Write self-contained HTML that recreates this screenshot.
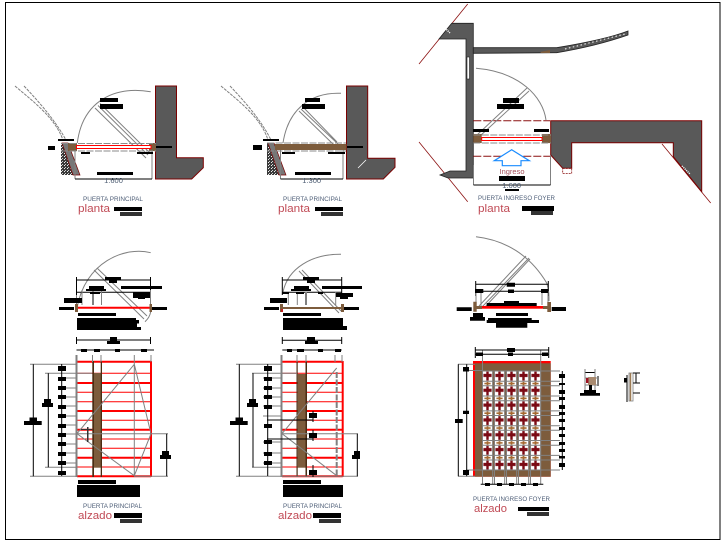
<!DOCTYPE html>
<html>
<head>
<meta charset="utf-8">
<style>
html,body{margin:0;padding:0;background:#fff;width:725px;height:543px;overflow:hidden}
svg{display:block}
text{font-family:"Liberation Sans",sans-serif}
.t{font-size:6.6px;fill:#4f5f78}
.p{font-size:11px;fill:#c04a55}
.d{font-size:7.5px;fill:#4a5a70}
.g{stroke:#808080;stroke-width:1;fill:none}
.g2{stroke:#808080;stroke-width:2;fill:none}
.k{stroke:#000;stroke-width:1;fill:none}
.w{fill:#595959;stroke:#7a0000;stroke-width:1}
.r{stroke:#f00;fill:none}
.dr{stroke:#8b1010;stroke-width:.8;fill:none}
.da{stroke:#8b8b8b;stroke-width:1;stroke-dasharray:7 1.5;fill:none}
.rd{stroke:#8b1010;stroke-width:1;stroke-dasharray:8 2;fill:none}
.b{fill:#7d5c3c}
</style>
</head>
<body>
<svg width="725" height="543" viewBox="0 0 725 543" xmlns="http://www.w3.org/2000/svg">
<defs>
<pattern id="sp" width="3" height="3" patternUnits="userSpaceOnUse">
<rect width="3" height="3" fill="#3a3a3a"/><rect x="1" y="0" width="1" height="1" fill="#eee"/><rect x="2" y="2" width="1" height="1" fill="#ccc"/>
</pattern>
<pattern id="grid" x="482" y="371" width="12" height="14.83" patternUnits="userSpaceOnUse">
<rect width="12" height="14.83" fill="#7d5c3c"/>
<rect x="1" y="0" width="9.300" height="10.200" fill="#fff"/>
<rect x="1" y="10.200" width="9.300" height="4.630" fill="#fff"/>
<path d="M4.300 .6H6.700V2.900H9.600V6H6.700V9.600H4.300V6H1.400V2.900H4.300Z" fill="#7b0a14"/>
<path d="M4.600 10.800H6.400V11.700H8.600V13.300H6.400V14.300H4.600V13.300H2.400V11.700H4.600Z" fill="#a5682f"/>
</pattern>
</defs>
<rect width="725" height="543" fill="#fff"/>
<rect x="5.500" y="2.500" width="714.500" height="537" fill="none" stroke="#000" stroke-width="1"/>

<!-- Plan 1 -->
<path class="w" d="M155.500 86H176.500V157.700H203.300V167.700L191.700 179H155.500Z"/>
<path class="g" stroke-dasharray="3 1" d="M15 86C35 103 55 118 63 140M24 86C42 105 56 122 66 140"/>
<path d="M61 143H68L80 175H61Z" fill="url(#sp)"/><path d="M68 143L80 175H73L62 143Z" fill="#777" stroke="#7a0000" stroke-width=".7"/>
<path class="g" d="M150.700 91.700C110 85 82 105 77.300 143"/>
<path class="g" d="M95 108L146 158M98 105.500L148 155M100 103.500L150 153"/>
<path class="b" d="M68 143H77V151H68ZM149 143H156V151H149Z"/>
<rect x="76.500" y="145.500" width="74.500" height="3" fill="#fff" stroke="#f00" stroke-width="1"/>
<path class="da" d="M61 143.500H156M61 151H156"/>
<path class="g" d="M75 150V179M152 150V179"/>
<path class="k" d="M75 179H152"/>
<path d="M48 146H55V150H48ZM58 139H74V141H58ZM100 98H118V102H100ZM100 104H123V109H100ZM156 146H172V148H156ZM81 152H90V154H81ZM137 152H153V154H137ZM97 172H133V175H97ZM114 207H142V211H114Z"/>
<rect x="120" y="212" width="22" height="4" fill="#333"/>
<text class="d" x="113.500" y="183" text-anchor="middle">1.600</text>
<text class="t" x="83" y="201" textLength="60" lengthAdjust="spacingAndGlyphs">PUERTA PRINCIPAL</text>
<text class="p" x="78" y="212" textLength="32" lengthAdjust="spacingAndGlyphs">planta</text>

<!-- Plan 2 -->
<path class="w" d="M346.500 86H367.700V158.300H395V167.300L383.300 179H346.500Z"/>
<path d="M358 168L366 160" stroke="#fff" stroke-width=".8"/>
<path class="g" stroke-dasharray="3 1" d="M221 86C241 103 261 118 268 140M230 86C248 105 262 122 271 140"/>
<path d="M267 143H274L286 175H267Z" fill="url(#sp)"/><path d="M274 143L286 175H279L268 143Z" fill="#777" stroke="#7a0000" stroke-width=".7"/>
<path class="g" d="M341 93.300C310 92 288 110 283 143"/>
<path class="g" d="M299 111L335 146M301 109L338 144M303 107L337 142"/>
<rect x="275" y="144" width="71.500" height="6" fill="#7d5c3c"/>
<path class="da" d="M267 143H346M267 151H346"/>
<path class="g" d="M280.500 150V179M343 150V179"/>
<path class="k" d="M280.500 179H343"/>
<path d="M253 145H262V150H253ZM263 139H279V141H263ZM305 98H320V102H305ZM302 104H325V109H302ZM347 146H363V148H347ZM282 152H295V154H282ZM328 152H345V154H328ZM295 172H331V175H295ZM315 207H343V211H315Z"/>
<rect x="321" y="212" width="22" height="4" fill="#333"/>
<text class="d" x="311.700" y="183" text-anchor="middle">1.300</text>
<text class="t" x="283" y="201" textLength="59" lengthAdjust="spacingAndGlyphs">PUERTA PRINCIPAL</text>
<text class="p" x="278" y="212" textLength="32" lengthAdjust="spacingAndGlyphs">planta</text>

<!-- Plan 3 -->
<path class="dr" d="M467.700 4L419 64M419 142L467.700 201.700M662 144L710.700 203"/>
<path fill="#595959" stroke="#222" stroke-width=".8" d="M439 39L451.700 23.300H473.300V178H448L440 175L450 171H466V39Z"/>
<rect x="467" y="57" width="2.500" height="22" fill="#fff" stroke="#222" stroke-width=".6"/>
<path fill="#595959" stroke="#222" stroke-width=".8" d="M473.300 47.700H556.700C585 43 610 38 628 31V35C605 43 585 48 556.700 52.700L473.300 53.300Z"/>
<path class="b" d="M540 52L550 50V53H541Z"/>
<path stroke="#fff" stroke-width="1" stroke-dasharray="1.500 2.500" d="M565 49L625 34"/>
<path class="w" d="M550.700 120.700H701.700V191.700L673.300 156.700V142.700H571.700V168.300H562.700L550.700 155Z"/>
<path stroke="#fff" stroke-width="1.500" stroke-dasharray="1 1" d="M682 166L690 174M445 28L450 33"/>
<rect x="562.700" y="168.500" width="9" height="5" fill="#fff" stroke="#8b1010" stroke-width=".8" stroke-dasharray="2 1"/>
<path class="rd" d="M473.300 120.700H550M473.300 156.300H550"/>
<path class="g" d="M476 68.300C520 72 543 97 546 120"/>
<path class="g" d="M477 135L527 88M480 136L529 91"/>
<path class="b" d="M473.300 134H481.700V143H473.300ZM542 134H551V143H542Z"/>
<rect x="481.700" y="137.500" width="60.300" height="3" fill="#fff" stroke="#f00" stroke-width="1"/>
<path class="da" d="M473.300 135H551M473.300 143H551"/>
<path d="M473 129H489V132H473ZM534 129H549V132H534ZM497 104H524V109H497ZM503 98H519V103H503ZM499 176H525V181H499ZM505 189H519V191H505ZM522 206H554V211H522Z"/>
<rect x="531" y="211" width="22" height="4" fill="#333"/>
<path fill="#fff" stroke="#1a8cff" stroke-width="1.200" d="M511.700 149.700L529.300 160.700H521V165.700H502.300V160.700H494.300Z"/>
<text x="512" y="174" text-anchor="middle" font-size="7.500" fill="#a5505a">Ingreso</text>
<path class="g" d="M473.500 165V185M550.500 155V185"/>
<path class="k" d="M473.500 185H550.500"/>
<text class="d" x="511.700" y="188" text-anchor="middle">1.600</text>
<text class="t" x="478" y="200" textLength="77" lengthAdjust="spacingAndGlyphs">PUERTA INGRESO FOYER</text>
<text class="p" x="478" y="212" textLength="32" lengthAdjust="spacingAndGlyphs">planta</text>

<!-- Elevation plan 1 -->
<path class="g" d="M150.700 252.700C125 246 85 262 77 308M145 321.700C148 319 150 316 150.700 311.700"/>
<path class="g" d="M94 270L144 319M97 268L147 316"/>
<path class="k" d="M76.500 280H150.500M76.500 277V295M150.500 277V295M76.500 292.300H150.500M76.500 340H150.500M76.500 337V344M150.500 337V344M76.500 350H154"/>
<path class="g" d="M76.500 295V305M82 290V305M101.500 290V305M150.500 290V305"/><path class="g2" d="M93 290V305"/>
<path d="M77 306.700H150V308.700H77Z" fill="#f00"/>
<path class="b" d="M75 304H78V312H75ZM149.500 304H152V312H149.500Z"/>
<path d="M59 307H74V310H59ZM152 307H167V310H152ZM64 298H82V303H64ZM78 313H116V316H78ZM77 318H136V320H139V323.500H137V327H141V330H77ZM121 286H162V289H121ZM133 292H150V298H133ZM138 297H145V299H138ZM89 286H104V290H89ZM86 289H106V291H86ZM105 277H121V280H105ZM109 280H117V283H109ZM90 292H100V294H90ZM107 341H120V344H107ZM110 337H117V341H110ZM81 349H87V352H81ZM94 349H100V352H94ZM115 349H120V352H115ZM141 349H147V352H141Z"/>

<!-- Elevation 1 -->
<g class="r" stroke-width="1">
<path d="M77 373.300H151M77 392.300H151M77 401.700H151M77 420.300H151M77 439H151M77 448.300H151M77 467H151"/>
<path stroke-width="2" d="M77 361.700H151M77 383H151M77 411H151M77 429.700H151M77 457.700H151M77 476.300H151M151 361V477"/>
</g>
<rect x="94" y="373" width="7.300" height="94.700" fill="#7d5c3c"/>
<path fill="#4a2d14" d="M92.300 361H94V477H92.300ZM100.700 361H102V477H100.700Z"/>
<path class="g2" d="M76.500 355V477"/>
<path class="g" d="M134.300 355V476M134.300 364.300L151 433.700L134.300 475.700L77 433.700ZM92.500 355V362M101 355V362M151 355V362"/>
<path class="g" d="M30 364.300H76M30 476.300H76M45 373.300H92M45 467.300H76M77 433.700H168M134 476.300H168M60 378H76M60 388H76M60 397H76M60 406H76M60 416H76M60 425H76M60 434H76M60 444H76M60 453H76M60 463H76"/>
<path class="k" d="M33.300 364.300V476.300M48.300 373.300V467.300M61.700 364V476M166.700 433.700V476.300"/>
<path d="M58 366H66V371H58ZM58 377H66V381H58ZM58 386H66V390H58ZM58 395H66V399H58ZM58 405H66V409H58ZM58 414H66V418H58ZM58 424H66V428H58ZM58 433H66V437H58ZM58 442H66V446H58ZM58 452H66V456H58ZM58 461H66V465H58ZM58 471H66V475H58ZM24 421H29.500V417.500H37V421H41.700V425H24ZM42 403H44V399H51V403H53V407H42ZM160 455H162V451H169V455H171V459H160ZM78 480H116V484H78ZM77 485H140V497H77ZM114 513H142V518H114Z"/>
<path fill="#333" d="M87 427H88.500V442H87ZM81 429H92V430H81ZM120 519H142V523H120Z"/>
<text class="t" x="83" y="508" textLength="59" lengthAdjust="spacingAndGlyphs">PUERTA PRINCIPAL</text>
<text class="p" x="78" y="519" textLength="34" lengthAdjust="spacingAndGlyphs">alzado</text>

<!-- Elevation plan 2 -->
<path class="g" d="M341 254.300C312 254 288 268 283 292"/>
<path class="g" d="M299 271L339 313M302 270L341 311"/>
<path class="k" d="M282.300 280H341.700M282.300 277V295M341.700 277V295M282.300 292.300H341.700M282.300 340.300H341.700M282.300 337V344M341.700 337V344M282.300 350H341.700"/>
<path class="g" d="M288.300 292V305M297.300 292V305M335.700 292V305"/><path class="g2" d="M306 292V305"/>
<rect x="280" y="307" width="64" height="2" fill="#7d5c3c"/>
<path fill="#7d5c3c" d="M280 304H283V312H280ZM341 304H344V312H341Z"/>
<rect x="281" y="309" width="2" height="3" fill="#c02020"/>
<path d="M264 307H279V310H264ZM344 307H359V310H344ZM270 298H287V303H270ZM283 313H321V316H283ZM283 318H343V326H347V330H283ZM322 286H362V289H322ZM336 293H353V297H336ZM340 297H348V299H340ZM294 286H309V290H294ZM291 289H311V291H291ZM303 277H319V280H303ZM307 280H315V283H307ZM282 292H289V294H282ZM296 292H304V294H296ZM318 292H323V294H318ZM305 341H318V344H305ZM307 337H315V341H307ZM287 349H292V352H287ZM297 349H304V352H297ZM318 349H323V352H318ZM335 349H341V352H335Z"/>

<!-- Elevation 2 -->
<g class="r" stroke-width="1">
<path d="M282 373.300H342.700M282 392.300H342.700M282 401.700H342.700M282 420.300H342.700M282 439H342.700M282 448.300H342.700M282 467H342.700"/>
<path stroke-width="2" d="M282 361.700H342.700M282 383H342.700M282 411H342.700M282 429.700H342.700M282 457.700H342.700M282 476.300H342.700M342.700 361V477"/>
</g>
<rect x="297.700" y="374" width="8" height="93.700" fill="#7d5c3c"/>
<path fill="#4a2d14" d="M305.500 361H307V477H305.500ZM296.500 361H297.700V477H296.500Z"/>
<path class="g2" d="M281.500 355V477"/>
<path stroke="#808080" stroke-width="2" stroke-dasharray="6 1.500" d="M336.700 372V476"/>
<path class="g" d="M336.700 368L282 433.700L336.700 475.700M297 355V362M306 355V362M335 355V362M342 355V362"/>
<path class="g" d="M236 364.300H282M236 476.300H282M252 373.300H297M252 467.300H282M282 433.700H358M282 476.300H358M263 378H282M263 388H282M263 397H282M263 406H282M263 416H282M263 442H282M263 453H282M263 463H282"/>
<path class="k" d="M239.300 364.300V476.300M253 373.300V467.300M267.700 364V476M357.300 433.700V476.300M267 420H313M267 439H313M313 411V422M313 430V441M313 465V477"/>
<path d="M264 366H272V371H264ZM264 377H272V381H264ZM264 386H272V390H264ZM264 395H272V399H264ZM264 405H272V409H264ZM264 424H272V428H264ZM264 440H272V444H264ZM264 452H272V456H264ZM264 461H272V465H264ZM230 421H235.500V417.500H243V421H247.700V425H230ZM247 403H249V399H256V403H258V407H247ZM352 455H354V451H360V459H352ZM309 413H317V418H309ZM309 433H317V438H309ZM309 470H317V475H309ZM283 480H321V484H283ZM283 485H343V497H283ZM313 513H341V518H313Z"/>
<rect x="319" y="519" width="22" height="4" fill="#333"/>
<text class="t" x="283" y="508" textLength="59" lengthAdjust="spacingAndGlyphs">PUERTA PRINCIPAL</text>
<text class="p" x="278" y="519" textLength="34" lengthAdjust="spacingAndGlyphs">alzado</text>

<!-- Elevation plan 3 -->
<path class="g" d="M476 236.700C505 240 530 255 546.700 283C549 290 549 295 549 301"/>
<path class="g" d="M479 306L526 256M482 307L529 258M485 307L530 259"/>
<path class="k" d="M475.700 284.300H548.300M475.700 281V296M548.300 281V296M475.700 291.300H548.300"/>
<path class="g" d="M476 291V303M481 291V306M542 291V305M548 291V303"/>
<rect x="481" y="306" width="69" height="2.700" fill="#f00"/>
<path class="b" d="M473.300 301.700H476.700V311.700H473.300ZM547.300 302H551V312H547.300ZM476 306H482V309H476ZM543 306H548V309H543Z"/>
<path d="M506.700 282.700H515V286.700H506.700ZM475 289H483.300V293H475ZM508 289.500H514V293H508ZM541 289H548V293H541ZM486.700 303H536.700V306H486.700ZM504 301H519V303H504ZM456.700 307.300H471.700V311H456.700ZM551.700 307H566V311H551.700ZM496 313H528V316H496ZM488 318H531.700V320.700H488ZM486.700 320H539V323H486.700ZM496 323H527.300V327.700H496ZM470 317H485V320.700H470ZM473 313H483V317H473Z"/>

<!-- Elevation 3 -->
<rect x="473" y="361" width="77.700" height="115.700" fill="#f00"/>
<rect x="475" y="363.300" width="75.700" height="113.400" fill="#7d5c3c"/>
<rect x="482" y="371" width="60" height="99" fill="url(#grid)"/>
<g class="g" stroke-width=".9">
<path d="M458 364.300H475M458 476.300H475M466 370.500H482M466 470H482M482 371H560M482 381.200H560M482 385.800H560M482 396H560M482 400.700H560M482 410.900H560M482 415.500H560M482 425.700H560M482 430.300H560M482 440.500H560M482 445.200H560M482 455.400H560M482 460H560M482 470H560"/>
<path d="M482.500 350V484M492.700 371V484M494.500 371V484M504.700 371V484M506.500 371V484M516.700 371V484M518.500 371V484M528.700 371V484M530.500 371V484M540.700 350V484"/>
</g>
<path class="k" d="M475.300 350H548.700M475.300 347V358M548.700 347V358M475.300 354.300H548.700M458.300 364.300V476.300M466.700 364.300V476.300M562.300 371V470M480.700 484.300H543.300"/>
<path d="M507 348H515V352H507ZM476 352.500H483V356H476ZM508 352.500H513V356H508ZM542 352.500H548V356H542ZM455 419H462.700V423H455ZM463 410.700H469V414H463ZM463 367H469V371.500H463ZM463 470H469V475H463ZM559 374H565V378H559ZM559 383H565V385H559ZM559 390H565V394H559ZM559 397H565V400H559ZM559 405H565V409H559ZM559 412H565V415H559ZM559 419H565V422H559ZM559 427H565V430H559ZM559 434H565V437H559ZM559 442H565V445H559ZM559 449H565V452H559ZM559 456H565V458.500H559ZM559 463H565V467H559ZM485 483H490V486H485ZM497 483H502V486H497ZM509 483H514V486H509ZM521 483H526V486H521ZM533 483H538V486H533ZM518 507H549V511H518Z"/>
<rect x="527" y="512" width="22" height="4" fill="#333"/>
<text class="t" x="473" y="501" textLength="77" lengthAdjust="spacingAndGlyphs">PUERTA INGRESO FOYER</text>
<text class="p" x="474" y="512" textLength="33" lengthAdjust="spacingAndGlyphs">alzado</text>

<!-- Details -->
<path class="k" d="M585 372.500H595M598 376V386"/>
<path class="g" d="M585 369V390M595 369V390M585 378H598M585 385H598"/>
<rect x="588" y="377" width="8" height="8" fill="#a88a70"/>
<rect x="586" y="378" width="2.500" height="5" fill="#9b1020"/>
<path d="M580 393H600V395.700H580ZM584 390H596V393H584ZM589 385H592V390H589Z"/>
<rect x="629" y="373" width="4" height="28" fill="#fff" stroke="#808080" stroke-width=".8"/>
<path d="M630.500 373V401" stroke="#9b7b55" stroke-width="1.500"/>
<path class="k" d="M627 375V402M633 373H640M633 383H640M633 393H640M636 373V383M627 390V400"/>
<rect x="624" y="378" width="3.500" height="4.500"/>
</svg>
</body>
</html>
